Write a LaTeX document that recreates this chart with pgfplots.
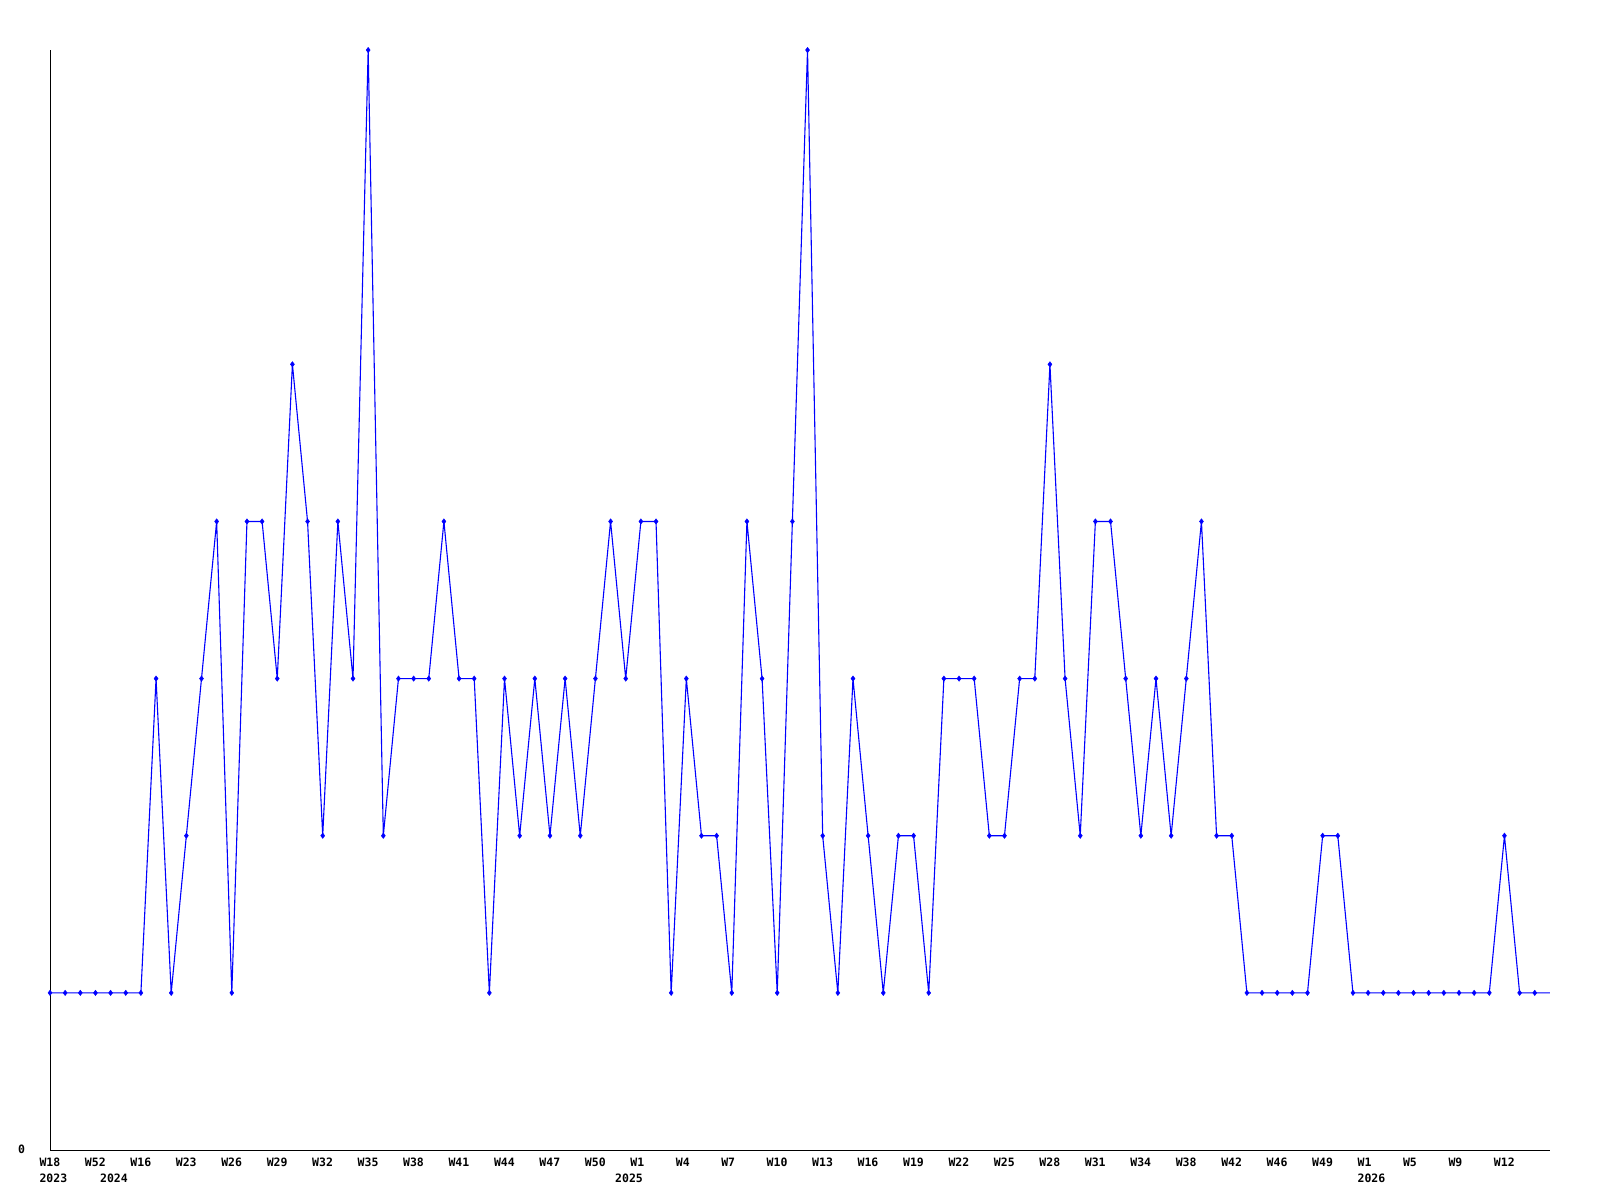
\documentclass[border=0pt]{standalone}
\usepackage{fontspec}
\setmonofont{DejaVu Sans Mono}
\usepackage{pgfplots}
\pgfplotsset{compat=1.18}
\begin{document}
\begin{tikzpicture}
\path[use as bounding box, fill=white] (0,0) rectangle (1600pt,1200pt);
\begin{axis}[
  at={(50pt,50pt)}, anchor=south west,
  scale only axis, width=1500pt, height=1100pt,
  xmin=0, xmax=99, ymin=0, ymax=7,
  axis x line*=bottom, axis y line*=left,
  axis line style={black, line width=1pt, -},
  major tick length=0pt,
  clip=false,
  xtick={0,3,...,96},
  xticklabels={W18,W52,W16,W23,W26,W29,W32,W35,W38,W41,W44,W47,W50,W1,W4,W7,W10,W13,W16,W19,W22,W25,W28,W31,W34,W38,W42,W46,W49,W1,W5,W9,W12},
  ytick={0}, yticklabels={0},
  tick label style={font=\ttfamily\bfseries\fontsize{11.5}{14}\selectfont, inner sep=0pt},
  xticklabel style={anchor=north west, xshift=-10.7pt, yshift=-7.5pt},
  yticklabel style={anchor=east, xshift=-24.7pt, yshift=1pt},
  extra x ticks={0,4,38,87},
  extra x tick labels={2023,2024,2025,2026},
  extra x tick style={major tick length=0pt, xticklabel style={yshift=-15.8pt}},
]
\addplot[blue, line width=1.1pt, no marks] coordinates {
(0,1)(1,1)(2,1)(3,1)(4,1)(5,1)(6,1)(7,3)(8,1)(9,2)
(10,3)(11,4)(12,1)(13,4)(14,4)(15,3)(16,5)(17,4)(18,2)(19,4)
(20,3)(21,7)(22,2)(23,3)(24,3)(25,3)(26,4)(27,3)(28,3)(29,1)
(30,3)(31,2)(32,3)(33,2)(34,3)(35,2)(36,3)(37,4)(38,3)(39,4)
(40,4)(41,1)(42,3)(43,2)(44,2)(45,1)(46,4)(47,3)(48,1)(49,4)
(50,7)(51,2)(52,1)(53,3)(54,2)(55,1)(56,2)(57,2)(58,1)(59,3)
(60,3)(61,3)(62,2)(63,2)(64,3)(65,3)(66,5)(67,3)(68,2)(69,4)
(70,4)(71,3)(72,2)(73,3)(74,2)(75,3)(76,4)(77,2)(78,2)(79,1)
(80,1)(81,1)(82,1)(83,1)(84,2)(85,2)(86,1)(87,1)(88,1)(89,1)
(90,1)(91,1)(92,1)(93,1)(94,1)(95,1)(96,2)(97,1)(98,1)(99,1)
};
\addplot[blue, only marks, mark=diamond*, mark size=2.7pt] coordinates {
(0,1)(1,1)(2,1)(3,1)(4,1)(5,1)(6,1)(7,3)(8,1)(9,2)
(10,3)(11,4)(12,1)(13,4)(14,4)(15,3)(16,5)(17,4)(18,2)(19,4)
(20,3)(21,7)(22,2)(23,3)(24,3)(25,3)(26,4)(27,3)(28,3)(29,1)
(30,3)(31,2)(32,3)(33,2)(34,3)(35,2)(36,3)(37,4)(38,3)(39,4)
(40,4)(41,1)(42,3)(43,2)(44,2)(45,1)(46,4)(47,3)(48,1)(49,4)
(50,7)(51,2)(52,1)(53,3)(54,2)(55,1)(56,2)(57,2)(58,1)(59,3)
(60,3)(61,3)(62,2)(63,2)(64,3)(65,3)(66,5)(67,3)(68,2)(69,4)
(70,4)(71,3)(72,2)(73,3)(74,2)(75,3)(76,4)(77,2)(78,2)(79,1)
(80,1)(81,1)(82,1)(83,1)(84,2)(85,2)(86,1)(87,1)(88,1)(89,1)
(90,1)(91,1)(92,1)(93,1)(94,1)(95,1)(96,2)(97,1)(98,1)
};
\end{axis}
\end{tikzpicture}
\end{document}
